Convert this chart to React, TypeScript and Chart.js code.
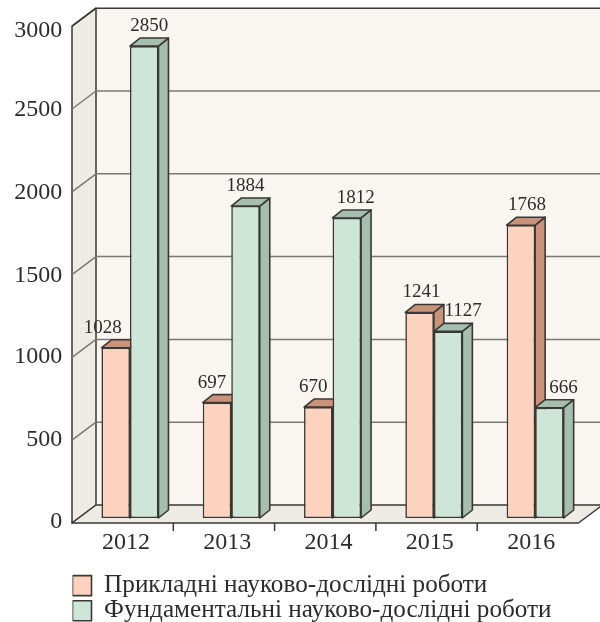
import React, { useEffect, useRef } from "react";
import { Chart, registerables } from "chart.js";

Chart.register(...registerables);

const years = ["2012", "2013", "2014", "2015", "2016"];
const appliedLabel = "Прикладні науково-дослідні роботи";
const fundamentalLabel = "Фундаментальні науково-дослідні роботи";
const applied = [1028, 697, 670, 1241, 1768];
const fundamental = [2850, 1884, 1812, 1127, 666];
const yTicks = [0, 500, 1000, 1500, 2000, 2500, 3000];

// label nudges relative to the top centre of each bar (text placement only)
const appliedLabelDx = [-13, -5, -5, 2, 6];
const fundamentalLabelDx = [5, 0, 9, 15, 14];
const yTickNudge = [4, 5, 4, 6, 6, 6, 10];

const INK = "#3a3836";
const BACK = "#f9f6f2";
const WALL = "#eeebe5";
const GRID = "#7d7873";
const FONT = '"Liberation Serif", serif';
const TEXT = "#2e2c2b";

// depth of the 3-D box, relative to the plane the bars stand in
const FRONT_DX = -7.3;
const FRONT_DY = 5;
const BACK_DX = 16.7;
const BACK_DY = -13;
const BAR_DX = 10;
const BAR_DY = -8;

const sideColours = ["#c9937a", "#a6bead"];

const poly = (ctx: CanvasRenderingContext2D, pts: number[][], fill?: string, stroke = true) => {
  ctx.beginPath();
  pts.forEach(([x, y], i) => (i ? ctx.lineTo(x, y) : ctx.moveTo(x, y)));
  ctx.closePath();
  if (fill) {
    ctx.fillStyle = fill;
    ctx.fill();
  }
  if (stroke) ctx.stroke();
};

const box3d = {
  id: "box3d",
  beforeLayout(chart: any) {
    const legend = chart.legend;
    if (legend && !legend.__wrapped) {
      const fit = legend.fit;
      legend.fit = function () {
        fit.call(this);
        this.height = 0;
      };
      legend.__wrapped = true;
    }
  },
  afterLayout(chart: any) {
    if (chart.legend) {
      chart.legend.left = 72.5;
      chart.legend.right = 600;
      chart.legend.top = 573;
    }
  },
  beforeDatasetsDraw(chart: any) {
    const { ctx, chartArea: a, scales } = chart;
    const y = scales.y;
    const x = scales.x;
    const y0 = y.getPixelForValue(0);
    const yMax = y.getPixelForValue(3000);
    const fl = a.left + FRONT_DX;
    const fr = a.right + FRONT_DX;
    const bl = a.left + BACK_DX;
    const br = a.right + BACK_DX;
    ctx.save();
    ctx.lineJoin = "round";
    // walls
    ctx.fillStyle = BACK;
    ctx.fillRect(bl, yMax + BACK_DY, br - bl, y0 - yMax);
    ctx.strokeStyle = INK;
    ctx.lineWidth = 1.5;
    poly(ctx, [[fl, yMax + FRONT_DY], [bl, yMax + BACK_DY], [bl, y0 + BACK_DY], [fl, y0 + FRONT_DY]], WALL);
    poly(ctx, [[fl, y0 + FRONT_DY], [bl, y0 + BACK_DY], [br, y0 + BACK_DY], [fr, y0 + FRONT_DY]], WALL);
    // grid lines
    yTicks.slice(1).forEach((v) => {
      const py = y.getPixelForValue(v);
      ctx.strokeStyle = v === 3000 ? INK : GRID;
      ctx.beginPath();
      ctx.moveTo(fl, py + FRONT_DY);
      ctx.lineTo(bl, py + BACK_DY);
      ctx.lineTo(br, py + BACK_DY);
      ctx.stroke();
    });
    // category tick marks
    ctx.strokeStyle = INK;
    const band = x.getPixelForTick(1) - x.getPixelForTick(0);
    years.slice(1).forEach((_, i) => {
      const px = x.getPixelForTick(i + 1) - band / 2 + FRONT_DX;
      ctx.beginPath();
      ctx.moveTo(px, y0 + FRONT_DY);
      ctx.lineTo(px, y0 + FRONT_DY + 8);
      ctx.stroke();
    });
    // side and top faces of the bars
    ctx.lineWidth = 1.6;
    chart.data.datasets.forEach((_: any, di: number) => {
      const meta = chart.getDatasetMeta(di);
      meta.data.forEach((bar: any) => {
        const l = bar.x - bar.width / 2;
        const r = bar.x + bar.width / 2;
        const t = bar.y;
        const b = bar.base;
        poly(ctx, [[r, t], [r + BAR_DX, t + BAR_DY], [r + BAR_DX, b + BAR_DY], [r, b]], sideColours[di]);
        poly(ctx, [[l, t], [l + BAR_DX, t + BAR_DY], [r + BAR_DX, t + BAR_DY], [r, t]], sideColours[di]);
      });
    });
    ctx.restore();
  },
  afterDatasetsDraw(chart: any) {
    const { ctx } = chart;
    ctx.save();
    ctx.font = `19px ${FONT}`;
    ctx.fillStyle = TEXT;
    ctx.textAlign = "center";
    ctx.textBaseline = "middle";
    [appliedLabelDx, fundamentalLabelDx].forEach((dxs, di) => {
      const meta = chart.getDatasetMeta(di);
      meta.data.forEach((bar: any, i: number) => {
        const value = chart.data.datasets[di].data[i];
        ctx.fillText(String(value), bar.x + dxs[i], bar.y - 20);
      });
    });
    ctx.restore();
  },
};

export default function App() {
  const ref = useRef<HTMLCanvasElement>(null);
  useEffect(() => {
    const chart = new Chart(ref.current as HTMLCanvasElement, {
      type: "bar",
      data: {
        labels: years,
        datasets: [
          {
            label: appliedLabel,
            data: applied,
            backgroundColor: "#fdd3bf",
            borderColor: INK,
            borderWidth: 1.6,
            borderSkipped: false,
            barPercentage: 1,
            categoryPercentage: 0.563,
          },
          {
            label: fundamentalLabel,
            data: fundamental,
            backgroundColor: "#cde6d7",
            borderColor: INK,
            borderWidth: 1.6,
            borderSkipped: false,
            barPercentage: 1,
            categoryPercentage: 0.563,
          },
        ],
      },
      options: {
        responsive: false,
        animation: false,
        layout: { padding: { top: 21.2, right: 14.2, left: 0, bottom: 0 } },
        plugins: {
          tooltip: { enabled: false },
          legend: {
            position: "bottom",
            align: "start",
            labels: {
              boxWidth: 19,
              boxHeight: 20,
              padding: 0,
              color: TEXT,
              font: { family: FONT, size: 25.2 },
            },
          },
        },
        scales: {
          x: {
            grid: { display: false },
            border: { display: false },
            ticks: {
              color: TEXT,
              font: { family: FONT, size: 24 },
              padding: 2,
              labelOffset: -4,
              maxRotation: 0,
            },
            afterFit: (s: any) => {
              s.height = 104;
            },
          },
          y: {
            min: 0,
            max: 3000,
            grid: { display: false },
            border: { display: false },
            ticks: {
              stepSize: 500,
              color: TEXT,
              font: { family: FONT, size: 24 },
              padding: 9,
              callback: (v: any) => String(v),
            },
            afterFit: (s: any) => {
              s.width = 79.3;
              s.paddingTop = 0;
              s.paddingBottom = 0;
            },
            afterBuildTicks: (s: any) => {
              s.getPixelForTick = (i: number) => s.getPixelForValue(s.ticks[i].value) + yTickNudge[i];
            },
          },
        },
      },
      plugins: [box3d],
    } as any);
    return () => chart.destroy();
  }, []);
  return (
    <div style={{ position: "absolute", left: 0, top: 0, width: 600, height: 622 }}>
      <canvas ref={ref} width={600} height={622} style={{ display: "block" }} />
    </div>
  );
}
